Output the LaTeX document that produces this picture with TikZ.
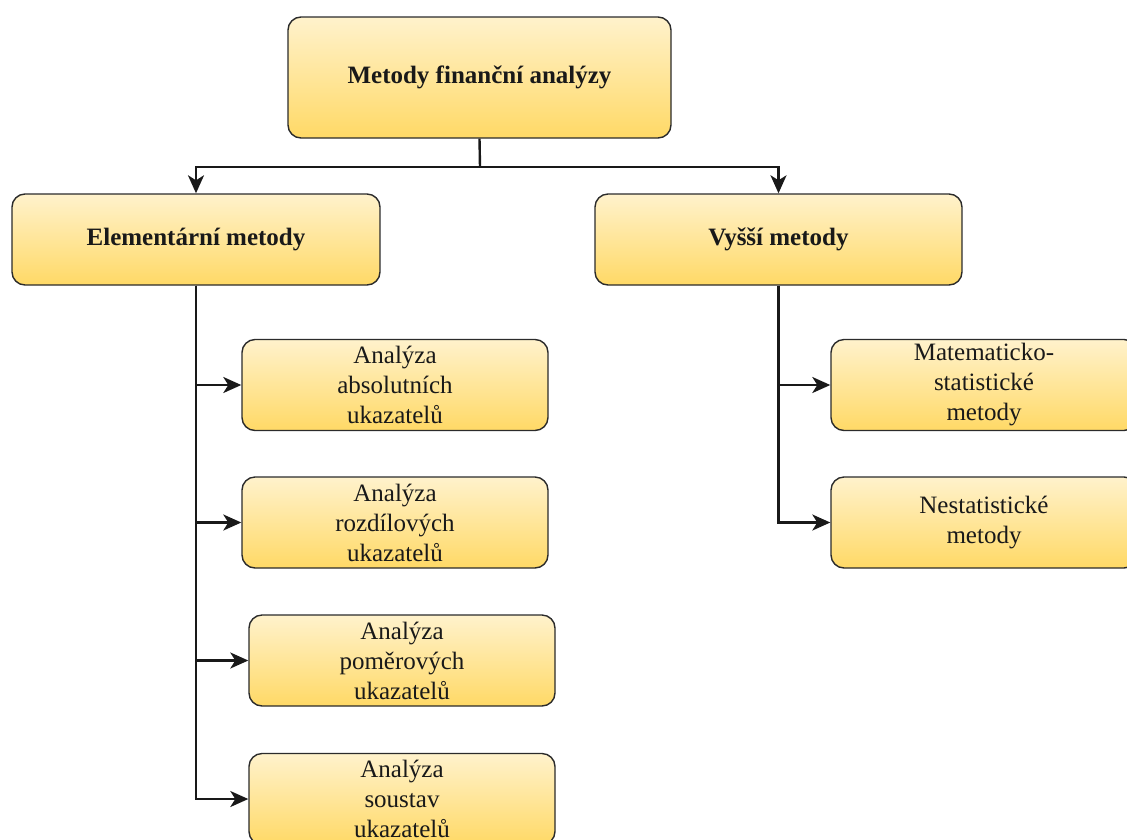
\documentclass[tikz,border=0pt]{standalone}
\usepackage{fontspec}
\setmainfont{Liberation Serif}
\newfontfamily\boxfont{Liberation Serif}
\usetikzlibrary{arrows.meta}
\definecolor{topc}{HTML}{FFF2CC}
\definecolor{botc}{HTML}{FFD966}
\definecolor{edgec}{HTML}{2B2B2B}
\tikzset{
  boxbase/.style={draw=edgec, line width=1.4pt, rounded corners=13pt,
    top color=topc, bottom color=botc, inner sep=0pt, align=center,
    font=\boxfont\fontsize{25}{30}\selectfont, text=black!90},
  headbox/.style={boxbase, font=\boxfont\fontsize{25}{30}\selectfont\bfseries},
  leafbox/.style={boxbase, minimum width=306pt, minimum height=91pt},
  conn/.style={draw=black!90, line width=2.4pt},
  arr/.style={conn, -{Stealth[length=18pt,width=16pt,inset=5pt]}}
}
\begin{document}
\begin{tikzpicture}[x=1pt,y=-1pt]
\useasboundingbox (0,0) rectangle (1127,839);
\clip (0,0) rectangle (1127,839);
\node[headbox, minimum width=383pt, minimum height=121pt] (top) at (479.5,77.5) {Metody finanční analýzy};
\node[headbox, minimum width=368pt, minimum height=91pt] (elem) at (196,239.5) {Elementární metody};
\node[headbox, minimum width=367pt, minimum height=91pt] (vys) at (778.5,239.5) {Vyšší metody};
\node[leafbox] (a1) at (395,385) {Analýza\\absolutních\\ukazatelů};
\node[leafbox] (a2) at (395,522.5) {Analýza\\rozdílových\\ukazatelů};
\node[leafbox] (a3) at (402,660.5) {Analýza\\poměrových\\ukazatelů};
\node[leafbox] (a4) at (402,799) {Analýza\\soustav\\ukazatelů};
\node[leafbox] (m1) at (984,385) {Matematicko-\\statistické\\metody};
\node[leafbox] (m2) at (984,522.5) {Nestatistické\\metody};
\coordinate (split) at (480,167);
\draw[conn] (top.south) -- (split);
\draw[arr] (split) -| (elem.north);
\draw[arr] (split) -| (vys.north);
\draw[arr] (elem.south) |- (a1.west);
\draw[arr] (elem.south) |- (a2.west);
\draw[arr] (elem.south) |- (a3.west);
\draw[arr] (elem.south) |- (a4.west);
\draw[arr] (vys.south) |- (m1.west);
\draw[arr] (vys.south) |- (m2.west);
\end{tikzpicture}
\end{document}
